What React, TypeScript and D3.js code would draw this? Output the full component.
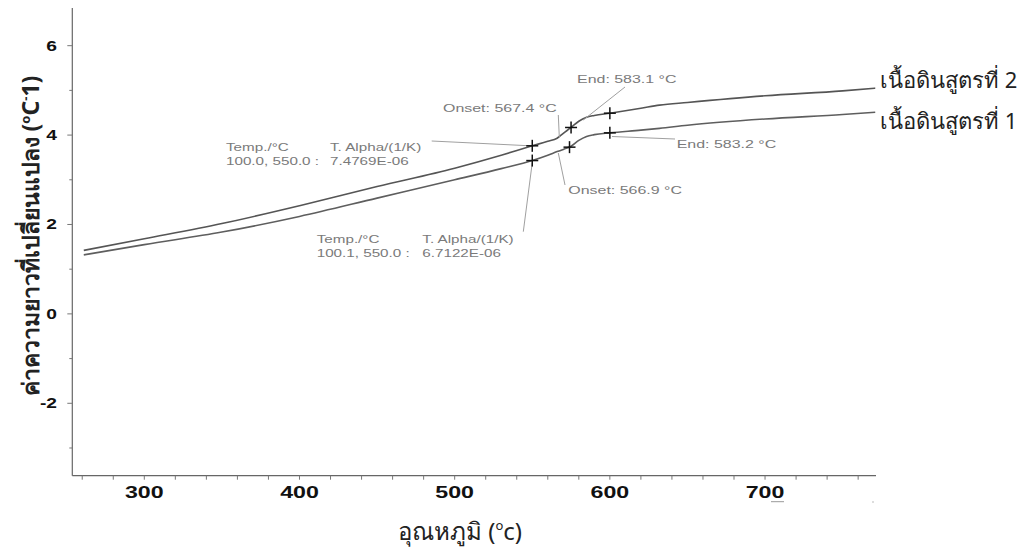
import React from "react";
import * as d3 from "d3";

const temps = [261, 300, 350, 400, 450, 500, 530, 550, 560, 566, 570, 575, 580, 585, 590, 600, 620, 632, 650, 700, 750, 771];
const formula2 = [1.42, 1.68, 2.02, 2.42, 2.85, 3.26, 3.55, 3.76, 3.86, 3.93, 4.04, 4.17, 4.31, 4.40, 4.44, 4.49, 4.60, 4.67, 4.73, 4.88, 4.99, 5.05];
const formula1 = [1.32, 1.55, 1.83, 2.18, 2.59, 3.00, 3.25, 3.43, 3.55, 3.63, 3.68, 3.75, 3.88, 3.97, 4.01, 4.05, 4.11, 4.15, 4.22, 4.36, 4.46, 4.51];
const seriesNames = ["เนื้อดินสูตรที่ 2", "เนื้อดินสูตรที่ 1"];

const crossTemps2 = [550, 575, 600];
const crossVals2 = [3.76, 4.17, 4.49];
const crossTemps1 = [550, 574, 600];
const crossVals1 = [3.43, 3.73, 4.05];

const xTickLabels = [300, 400, 500, 600, 700];
const yTickLabels = [-2, 0, 2, 4, 6];

const W = 1026, H = 551;
const x = d3.scaleLinear().domain([253.6, 771.5]).range([72.3, 876]);
const y = d3.scaleLinear().domain([-3.62, 6.843]).range([475.7, 8]);

const GRAY_TXT = "#7a7a7a";
const LEAD = "#a0a0a0";
const SX = 1.45;

function SText({ px, py, size, children, fill = GRAY_TXT, weight = "normal", anchor = "start", sx = SX }: any) {
  return (
    <g transform={`translate(${px},${py}) scale(${sx},1)`}>
      <text x={0} y={0} fontFamily="'Liberation Sans', Arial, sans-serif" fontSize={size} fill={fill} fontWeight={weight} textAnchor={anchor}>
        {children}
      </text>
    </g>
  );
}

export default function App() {
  const line = d3.line<number>().x((_, i) => x(temps[i])).y((d) => y(d)).curve(d3.curveMonotoneX);
  const xMinor = d3.range(260, 771, 20);
  const yMinor = d3.range(-3, 7, 1);

  const cross = (T: number, v: number, k: string) => {
    const cx = x(T), cy = y(v);
    return (
      <g key={k} stroke="#111" strokeWidth={1.5}>
        <line x1={cx - 6} x2={cx + 6} y1={cy} y2={cy} />
        <line x1={cx} x2={cx} y1={cy - 6} y2={cy + 6} />
      </g>
    );
  };

  return (
    <svg width={W} height={H} style={{ position: "absolute", left: 0, top: 0, background: "#fff" }}>
      {/* axes */}
      <line x1={x(253.6)} x2={x(253.6)} y1={y(6.843)} y2={y(-3.62)} stroke="#666" strokeWidth={1.2} />
      <line x1={x(253.6)} x2={x(771.5)} y1={y(-3.62)} y2={y(-3.62)} stroke="#666" strokeWidth={1.2} />
      {yMinor.map((v) => (
        <line key={"yt" + v} x1={x(253.6) - (v % 2 === 0 ? 5 : 3)} x2={x(253.6)} y1={y(v)} y2={y(v)} stroke="#777" strokeWidth={1} />
      ))}
      {xMinor.map((t) => (
        <line key={"xt" + t} x1={x(t)} x2={x(t)} y1={y(-3.62)} y2={y(-3.62) + 4} stroke="#777" strokeWidth={1} />
      ))}
      {yTickLabels.map((v) => (
        <SText key={"yl" + v} px={57} py={y(v) + 5} size={14} weight="bold" fill="#111" anchor="end" sx={1.37}>{v}</SText>
      ))}
      {xTickLabels.map((t) => (
        <SText key={"xl" + t} px={x(t)} py={497.5} size={16} weight="bold" fill="#111" anchor="middle" sx={1.45}>{t}</SText>
      ))}
      {/* small artifacts near 700 */}
      <line x1={771} x2={784} y1={501.7} y2={501.7} stroke="#999" strokeWidth={1} />
      <line x1={872} x2={874} y1={502} y2={502} stroke="#bbb" strokeWidth={1} />

      {/* axis titles */}
      <text transform={`translate(39,${236}) rotate(-90)`} textAnchor="middle" fontSize={23} fontWeight="bold" fill="#222" fontFamily="'Noto Sans', 'Liberation Sans', sans-serif">
        ค่าความยาวที่เปลี่ยนแปลง (<tspan fontSize={13} dy={-9}>o</tspan><tspan dy={9}>C</tspan><tspan fontSize={13} dy={-9}>-</tspan><tspan dy={9}>1)</tspan>
      </text>
      <text x={460} y={540} textAnchor="middle" fontSize={24} fill="#222" fontFamily="'Noto Sans', 'Liberation Sans', sans-serif">
        อุณหภูมิ (<tspan fontSize={13} dy={-10}>o</tspan><tspan dy={10}>c)</tspan>
      </text>

      {/* curves */}
      <path d={line(formula2) || ""} fill="none" stroke="#555" strokeWidth={1.6} />
      <path d={line(formula1) || ""} fill="none" stroke="#5e5e5e" strokeWidth={1.6} />

      {/* leader lines */}
      <g stroke={LEAD} strokeWidth={1} fill="none">
        <line x1={431.7} y1={141} x2={x(550) - 2} y2={y(3.76)} />
        <line x1={523.3} y1={231.7} x2={x(550)} y2={y(3.43) + 2} />
        <line x1={558.3} y1={115} x2={559.3} y2={137} />
        <line x1={565} y1={185} x2={558.3} y2={153} />
        <line x1={625} y1={87} x2={583.3} y2={120} />
        <line x1={612} y1={136.5} x2={675} y2={139} />
      </g>

      {/* annotations */}
      <SText px={226} py={151} size={10.5}>Temp./°C</SText>
      <SText px={330} py={151} size={10.5}>T. Alpha/(1/K)</SText>
      <SText px={226} py={165} size={10.5}>100.0, 550.0 :</SText>
      <SText px={330} py={165} size={10.5}>7.4769E-06</SText>

      <SText px={316.7} py={243} size={10.5}>Temp./°C</SText>
      <SText px={422.3} py={243} size={10.5}>T. Alpha/(1/K)</SText>
      <SText px={316.7} py={257} size={10.5}>100.1, 550.0 :</SText>
      <SText px={422.3} py={257} size={10.5}>6.7122E-06</SText>

      <SText px={443} py={112} size={10.5} sx={1.52}>Onset: 567.4 °C</SText>
      <SText px={568.3} py={193.5} size={10.5} sx={1.52}>Onset: 566.9 °C</SText>
      <SText px={577} py={82.5} size={10.5} sx={1.52}>End: 583.1 °C</SText>
      <SText px={676.7} py={147.5} size={10.5} sx={1.52}>End: 583.2 °C</SText>

      {/* crosses */}
      {crossTemps2.map((t, i) => cross(t, crossVals2[i], "c2" + i))}
      {crossTemps1.map((t, i) => cross(t, crossVals1[i], "c1" + i))}

      {/* legend labels */}
      <text x={880} y={88} fontSize={22} fill="#222" fontFamily="'Noto Sans', 'Liberation Sans', sans-serif">{seriesNames[0]}</text>
      <text x={880} y={129.3} fontSize={22} fill="#222" fontFamily="'Noto Sans', 'Liberation Sans', sans-serif">{seriesNames[1]}</text>
    </svg>
  );
}
